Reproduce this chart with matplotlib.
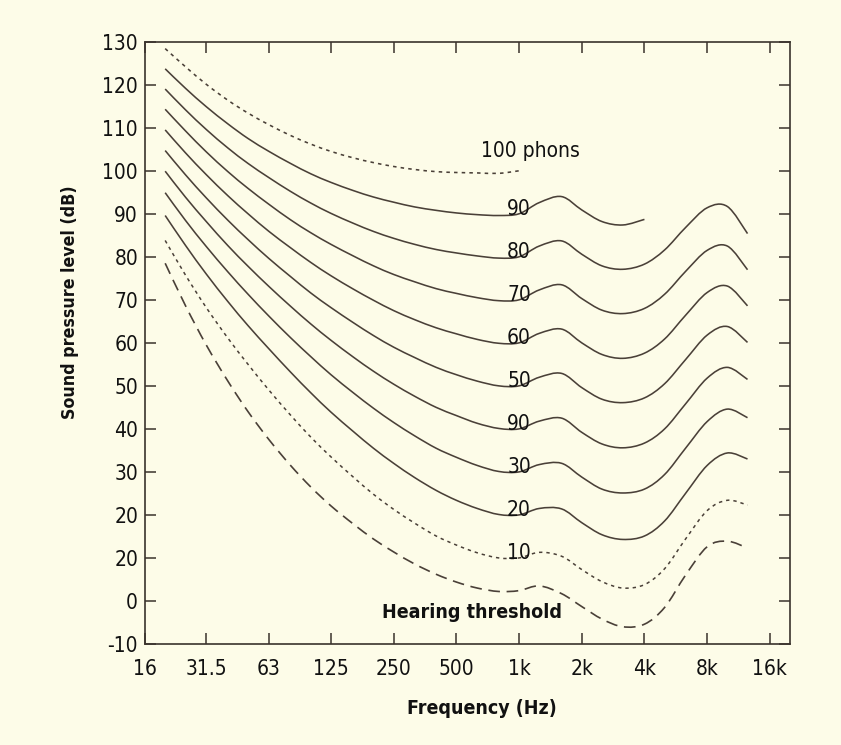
import numpy as np
import matplotlib.pyplot as plt
from matplotlib.path import Path
from matplotlib.patches import PathPatch
from matplotlib.ticker import FixedLocator, FixedFormatter, NullLocator

plt.rcParams['font.family'] = ['DejaVu Sans Condensed', 'DejaVu Sans']
plt.rcParams['font.stretch'] = 'condensed'

# third-octave frequencies (Hz)
freq = [20, 25, 31.5, 40, 50, 63, 80, 100, 125, 160, 200, 250, 315, 400, 500,
        630, 800, 1000, 1250, 1600, 2000, 2500, 3150, 4000, 5000, 6300, 8000,
        10000, 12500]

# sound pressure level (dB) of each contour
threshold = [78.5, 68.7, 59.5, 51.1, 44.0, 37.5, 31.5, 26.5, 22.1, 17.9, 14.4,
             11.4, 8.6, 6.2, 4.4, 3.0, 2.2, 2.4, 3.5, 1.7, -1.3, -4.2, -6.0,
             -5.4, -1.5, 6.0, 12.6, 13.9, 12.3]
phon_10 = [83.8, 75.8, 68.2, 61.1, 55.0, 49.0, 43.2, 38.1, 33.5, 28.8, 24.8,
           21.3, 18.1, 15.1, 13.0, 11.2, 10.0, 10.0, 11.3, 10.4, 7.3, 4.5, 3.0,
           3.8, 7.5, 14.4, 21.0, 23.4, 22.3]
phon_20 = [89.6, 82.7, 76.0, 69.6, 64.0, 58.6, 53.2, 48.4, 43.9, 39.4, 35.5,
           32.0, 28.7, 25.7, 23.4, 21.5, 20.1, 20.0, 21.5, 21.4, 18.2, 15.4,
           14.3, 15.1, 18.6, 25.0, 31.5, 34.4, 33.0]
phon_30 = [94.9, 88.5, 82.4, 76.5, 71.3, 66.2, 61.2, 56.8, 52.6, 48.4, 44.8,
           41.5, 38.4, 35.5, 33.4, 31.5, 30.1, 30.0, 31.7, 32.0, 28.8, 26.0,
           25.1, 26.0, 29.4, 35.5, 41.7, 44.6, 42.6]
phon_40 = [99.9, 93.9, 88.2, 82.6, 77.8, 73.1, 68.5, 64.4, 60.6, 56.7, 53.4,
           50.4, 47.6, 45.0, 43.1, 41.3, 40.1, 40.0, 41.8, 42.5, 39.2, 36.5,
           35.6, 36.7, 40.0, 45.8, 51.8, 54.3, 51.5]
phon_50 = [104.7, 99.1, 93.7, 88.5, 84.0, 79.6, 75.4, 71.6, 68.2, 64.7, 61.7,
           59.0, 56.6, 54.3, 52.6, 51.1, 50.0, 50.0, 52.0, 52.9, 49.6, 46.9,
           46.1, 47.2, 50.5, 56.1, 61.8, 63.8, 60.1]
phon_60 = [109.5, 104.2, 99.1, 94.2, 90.0, 85.9, 82.1, 78.7, 75.6, 72.5, 69.9,
           67.5, 65.4, 63.5, 62.1, 60.8, 59.9, 60.0, 62.2, 63.2, 60.0, 57.3,
           56.4, 57.6, 60.9, 66.4, 71.7, 73.2, 68.6]
phon_70 = [114.3, 109.3, 104.4, 99.8, 95.9, 92.2, 88.6, 85.6, 82.9, 80.2, 77.9,
           75.9, 74.2, 72.6, 71.5, 70.5, 69.8, 70.0, 72.3, 73.5, 70.3, 67.6,
           66.8, 68.0, 71.3, 76.6, 81.5, 82.5, 77.0]
phon_80 = [119.0, 114.2, 109.6, 105.3, 101.7, 98.4, 95.2, 92.5, 90.1, 87.8,
           85.9, 84.3, 82.9, 81.7, 80.9, 80.2, 79.7, 80.0, 82.5, 83.7, 80.6,
           77.9, 77.1, 78.3, 81.6, 86.8, 91.4, 91.7, 85.4]
# 90 phons stops at 4 kHz, 100 phons at 1 kHz
phon_90 = [123.7, 119.2, 114.9, 110.9, 107.5, 104.5, 101.7, 99.3, 97.3, 95.4,
           93.9, 92.7, 91.6, 90.8, 90.2, 89.8, 89.6, 90.0, 92.6, 94.0, 90.9,
           88.2, 87.4, 88.7]
phon_100 = [128.4, 124.2, 120.1, 116.4, 113.4, 110.7, 108.2, 106.2, 104.5,
            103.0, 101.9, 101.0, 100.3, 99.8, 99.6, 99.5, 99.4, 100.0]

solid = [phon_20, phon_30, phon_40, phon_50, phon_60, phon_70, phon_80, phon_90]
curve_labels = ['90', '80', '70', '60', '50', '90', '30', '20', '10']
label_levels = [90, 80, 70, 60, 50, 40, 30, 20, 10]

x_ticks = [16, 31.5, 63, 125, 250, 500, 1000, 2000, 4000, 8000, 16000]
x_ticklabels = ['16', '31.5', '63', '125', '250', '500', '1k', '2k', '4k',
                '8k', '16k']
y_ticks = list(range(-10, 131, 10))
y_ticklabels = ['-10', '0', '20', '20', '30', '40', '50', '60', '70', '80',
                '90', '100', '110', '120', '130']

bg = '#fdfce8'
ink = '#4a4038'
txt_c = '#111111'


def smooth_path(fx, ly):
    # cubic (Catmull-Rom) curve through the read points, in log-frequency
    u = np.log10(fx)
    v = np.asarray(ly, dtype=float)
    n = len(u)
    verts = [(u[0], v[0])]
    codes = [Path.MOVETO]
    for i in range(n - 1):
        a = max(i - 1, 0)
        b = min(i + 2, n - 1)
        verts.append((u[i] + (u[i + 1] - u[a]) / 6, v[i] + (v[i + 1] - v[a]) / 6))
        verts.append((u[i + 1] - (u[b] - u[i]) / 6, v[i + 1] - (v[b] - v[i]) / 6))
        verts.append((u[i + 1], v[i + 1]))
        codes += [Path.CURVE4] * 3
    verts = np.array(verts)
    verts[:, 0] = 10 ** verts[:, 0]
    return Path(verts, codes)


def draw_curve(ax, ly, **kw):
    p = PathPatch(smooth_path(freq[:len(ly)], ly), fill=False,
                  edgecolor=ink, **kw)
    ax.add_patch(p)


fig = plt.figure(figsize=(8.41, 7.45), dpi=100, facecolor=bg)
ax = fig.add_axes([0.1724, 0.1356, 0.767, 0.8084])
ax.set_facecolor(bg)

ax.set_xscale('log')
ax.set_xlim(16, 20000)
ax.set_ylim(-10, 130)

for lvl in solid:
    draw_curve(ax, lvl, lw=1.15)
draw_curve(ax, phon_100, lw=1.15, linestyle=(0, (2.2, 2.6)))
draw_curve(ax, phon_10, lw=1.1, linestyle=(0, (2.2, 2.6)))
draw_curve(ax, threshold, lw=1.2, linestyle=(0, (7, 4)))

ax.xaxis.set_major_locator(FixedLocator(x_ticks))
ax.xaxis.set_major_formatter(FixedFormatter(x_ticklabels))
ax.xaxis.set_minor_locator(NullLocator())
ax.yaxis.set_major_locator(FixedLocator(y_ticks))
ax.yaxis.set_major_formatter(FixedFormatter(y_ticklabels))

ax.tick_params(axis='both', which='major', direction='in', length=8,
               width=1.1, color='#3a332c', labelsize=15, labelcolor=txt_c,
               top=True, right=True)
ax.tick_params(axis='x', pad=11)
ax.tick_params(axis='y', pad=5)
for sp in ax.spines.values():
    sp.set_color('#3a332c')
    sp.set_linewidth(1.2)

for t, lvl in zip(curve_labels, label_levels):
    ax.text(1000, lvl - 0.2, t, ha='center', va='baseline', fontsize=15,
            color=txt_c)
ax.text(660, 103.2, '100 phons', ha='left', va='baseline', fontsize=15,
        color=txt_c)
ax.text(221, -4.0, 'Hearing threshold', ha='left', va='baseline',
        fontsize=14, fontweight='bold', color=txt_c)

ax.set_xlabel('Frequency (Hz)', fontsize=14, fontweight='bold', color=txt_c)
ax.set_ylabel('Sound pressure level (dB)', fontsize=12.8, fontweight='bold',
              color=txt_c)
ax.xaxis.set_label_coords(0.522, -0.092)
ax.yaxis.set_label_coords(-0.102, 0.567)

fig.savefig('out.png', dpi=100, facecolor=bg)
